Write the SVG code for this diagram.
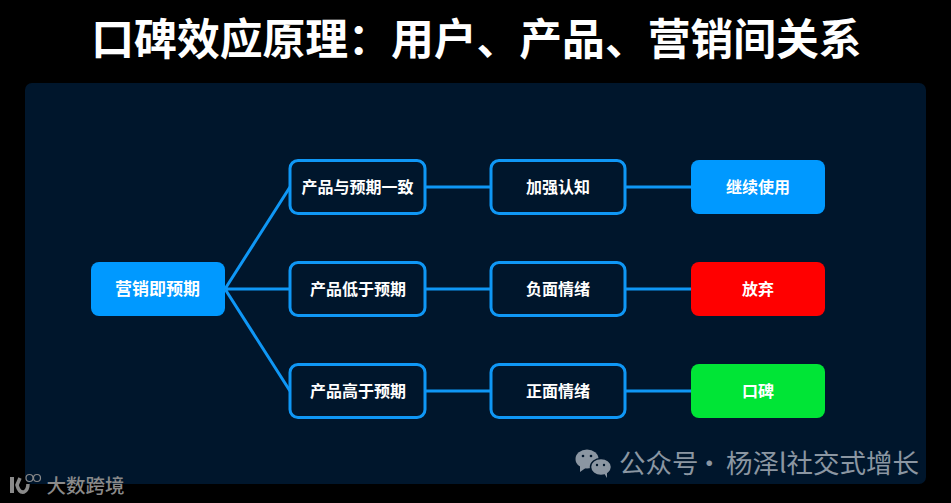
<svg xmlns="http://www.w3.org/2000/svg" width="951" height="503" viewBox="0 0 951 503">
<style>
text{font-family:"Noto Sans CJK SC","Noto Sans",sans-serif;text-anchor:middle}
.t{font-size:16px;font-weight:700;fill:#fff}
.o{fill:#00162c;stroke:#0f97f5;stroke-width:3}
.c{fill:none;stroke:#0f97f5;stroke-width:3}
.wm{fill:#8b96a2}
.lg{fill:none;stroke:#8a8a8a}
</style>
<rect width="951" height="503" fill="#000"/>
<rect x="25" y="83" width="901" height="401" rx="7" fill="#00162c"/>
<text id="title" x="476.500" y="55" font-size="42.800" font-weight="700" fill="#fff">口碑效应原理：用户、产品、营销间关系</text>
<g id="connectors">
<path class="c" d="M225 289L290 187M225 289H290M225 289L290 391M425 187H491M425 289H491M425 391H491M625 187H691M625 289H691M625 391H691"/>
</g>
<g id="n1"><rect x="91" y="262" width="134" height="54" rx="8" fill="#0099ff"/><text class="t" x="157.500" y="295" style="font-size:17px">营销即预期</text></g>
<g id="n2"><rect class="o" x="290" y="160.500" width="135" height="53" rx="8"/><text class="t" x="357.500" y="193">产品与预期一致</text></g>
<g id="n3"><rect class="o" x="290" y="262.500" width="135" height="53" rx="8"/><text class="t" x="358" y="295">产品低于预期</text></g>
<g id="n4"><rect class="o" x="290" y="364.500" width="135" height="53" rx="8"/><text class="t" x="358" y="397">产品高于预期</text></g>
<g id="n5"><rect class="o" x="491" y="160.500" width="134" height="53" rx="8"/><text class="t" x="558" y="193">加强认知</text></g>
<g id="n6"><rect class="o" x="491" y="262.500" width="134" height="53" rx="8"/><text class="t" x="558" y="295">负面情绪</text></g>
<g id="n7"><rect class="o" x="491" y="364.500" width="134" height="53" rx="8"/><text class="t" x="558" y="397">正面情绪</text></g>
<g id="n8"><rect x="691" y="160" width="134" height="54" rx="8" fill="#0099ff"/><text class="t" x="758" y="193">继续使用</text></g>
<g id="n9"><rect x="691" y="262" width="134" height="54" rx="8" fill="#ff0000"/><text class="t" x="758" y="295">放弃</text></g>
<g id="n10"><rect x="691" y="364" width="134" height="54" rx="8" fill="#00e536"/><text class="t" x="758" y="397">口碑</text></g>
<g id="logo">
<path class="lg" d="M12 477V493" stroke-width="4"/>
<path class="lg" d="M20 478L17 485Q19 493 24 492Q28 490 28 484" stroke-width="3.500"/>
<circle class="lg" cx="29.500" cy="478" r="3.500" stroke-width="1.200"/>
<circle class="lg" cx="37" cy="478" r="3.500" stroke-width="1.200"/>
<text x="85.500" y="493" font-size="19.500" font-weight="500" fill="#8a8a8a">大数跨境</text>
</g>
<g id="watermark">
<ellipse cx="587" cy="459" rx="11.500" ry="9.500" class="wm"/>
<path class="wm" d="M580 465L580 472L587 467Z"/>
<ellipse cx="601" cy="467" rx="10.500" ry="8.500" class="wm" stroke="#00162c" stroke-width="1.500"/>
<path class="wm" d="M604 473L607 478L607 472Z"/>
<g fill="#00162c"><circle cx="583" cy="456" r="1.300"/><circle cx="591" cy="456" r="1.300"/><circle cx="597" cy="465" r="1.200"/><circle cx="604" cy="465" r="1.200"/></g>
<text y="473" font-size="26.500" fill="#8b96a2" style="text-anchor:start"><tspan x="619">公众号</tspan><tspan x="696">·</tspan><tspan x="726">杨泽l社交式增长</tspan></text>
</g>
</svg>
